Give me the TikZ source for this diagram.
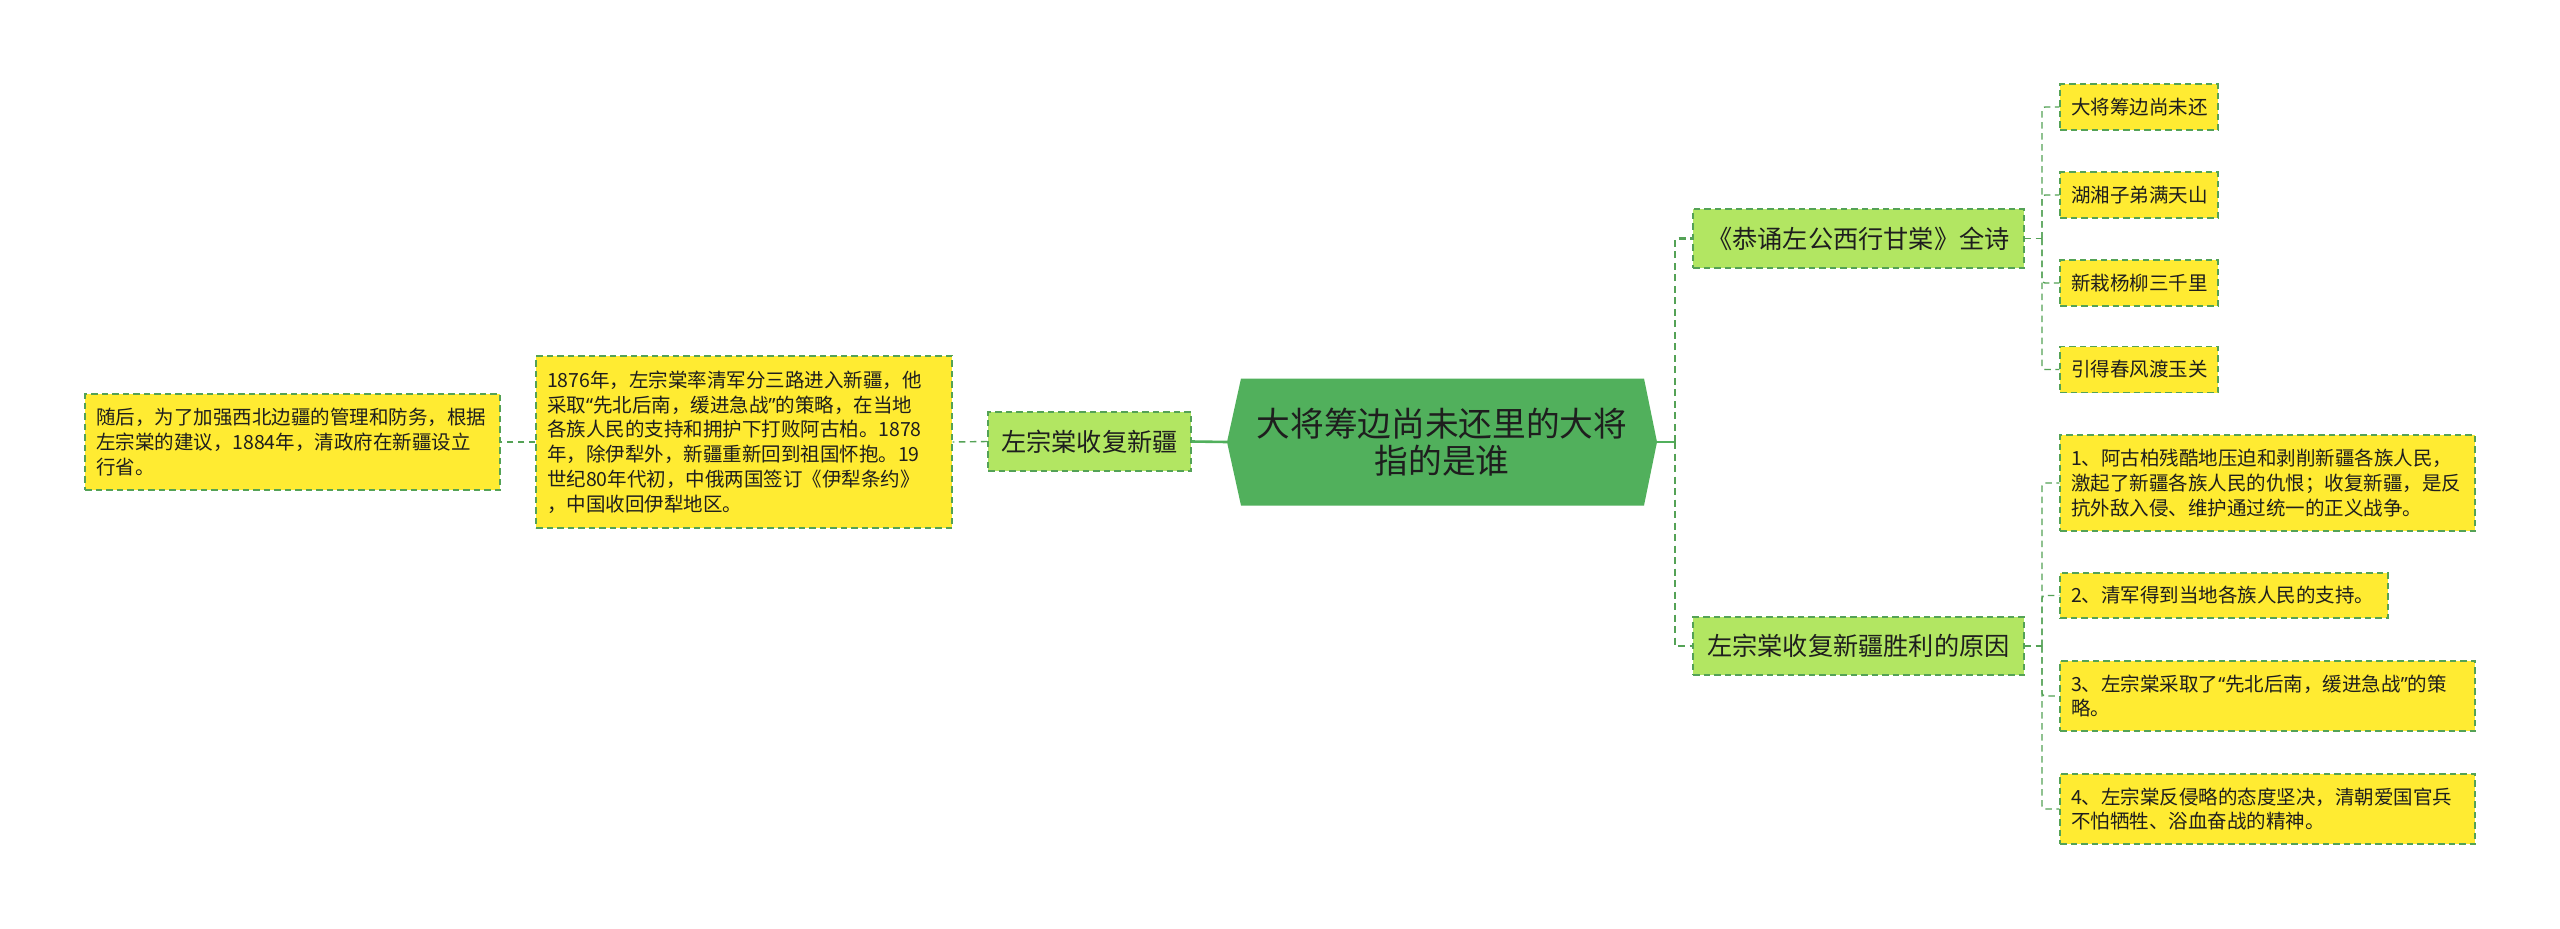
\documentclass[tikz,border=0pt]{standalone}
\usepackage{fontspec}
\setmainfont{Noto Sans CJK SC}
\newfontfamily\qfont{Noto Sans}
\newcommand{\myLq}{{\qfont “}}
\newcommand{\myRq}{{\qfont ”}}
\usetikzlibrary{calc}
\definecolor{hexgreen}{RGB}{81,176,92}
\definecolor{lgreen}{RGB}{178,230,98}
\definecolor{yel}{RGB}{255,235,50}
\definecolor{edge}{RGB}{84,162,86}
\definecolor{txt}{RGB}{30,30,30}
\begin{document}
\begin{tikzpicture}[x=1pt,y=-1pt,
  box/.style={draw=edge, line width=1.4pt, dash pattern=on 6.5pt off 4pt, inner sep=0pt, text=txt},
  lone/.style={box, fill=lgreen, font=\fontsize{25.2}{30}\selectfont, align=center},
  leaf/.style={box, fill=yel, font=\fontsize{19.5}{24.7}\selectfont, align=left, inner xsep=11pt},
  conn/.style={draw=edge, line width=1.4pt, dash pattern=on 6.5pt off 4.5pt},
  busline/.style={draw=edge, line width=2.6pt, dash pattern=on 7pt off 4.5pt},
  solidc/.style={draw=hexgreen, line width=2.6pt}]
\useasboundingbox[fill=white] (0,0) rectangle (2560,929);

% central hexagon
\fill[hexgreen] (1227,442) -- (1241,378.5) -- (1644,378.5) -- (1657,442) -- (1644,505.5) -- (1241,505.5) -- cycle;
\node[minimum width=430pt, minimum height=127pt, inner sep=0pt, text=txt, align=center,
      font=\fontsize{33.7}{37}\selectfont] (root) at (1442,442) {大将筹边尚未还里的大将\\指的是谁};

% left branch
\node[lone, minimum width=203pt, minimum height=59pt] (zuo) at (1089.5,441.5) {左宗棠收复新疆};
\node[leaf, text width=394pt, minimum width=416pt, minimum height=172pt] (hist) at (744,442)
 {1876年，左宗棠率清军分三路进入新疆，他\\采取\myLq 先北后南，缓进急战\myRq 的策略，在当地\\各族人民的支持和拥护下打败阿古柏。1878\\年，除伊犁外，新疆重新回到祖国怀抱。19\\世纪80年代初，中俄两国签订《伊犁条约》\\，中国收回伊犁地区。};
\node[leaf, text width=393pt, minimum width=415pt, minimum height=96pt] (prov) at (292.5,442)
 {随后，为了加强西北边疆的管理和防务，根据\\左宗棠的建议，1884年，清政府在新疆设立\\行省。};

% right branch level 1
\node[lone, minimum width=331pt, minimum height=59pt] (poem) at (1858.5,238.5) {《恭诵左公西行甘棠》全诗};
\node[lone, minimum width=331pt, minimum height=58pt] (why) at (1858.5,646) {左宗棠收复新疆胜利的原因};

% poem lines
\node[leaf, text width=136pt, minimum width=158pt, minimum height=46pt] (p1) at (2139,107) {大将筹边尚未还};
\node[leaf, text width=136pt, minimum width=158pt, minimum height=46pt] (p2) at (2139,195) {湖湘子弟满天山};
\node[leaf, text width=136pt, minimum width=158pt, minimum height=46pt] (p3) at (2139,283) {新栽杨柳三千里};
\node[leaf, text width=136pt, minimum width=158pt, minimum height=46pt] (p4) at (2139,369.5) {引得春风渡玉关};

% reasons
\node[leaf, text width=393pt, minimum width=415pt, minimum height=96pt] (r1) at (2267.5,483)
 {1、阿古柏残酷地压迫和剥削新疆各族人民，\\激起了新疆各族人民的仇恨；收复新疆，是反\\抗外敌入侵、维护通过统一的正义战争。};
\node[leaf, text width=306pt, minimum width=328pt, minimum height=45pt] (r2) at (2224,595.5)
 {2、清军得到当地各族人民的支持。};
\node[leaf, text width=393pt, minimum width=415pt, minimum height=70pt] (r3) at (2267.5,696)
 {3、左宗棠采取了\myLq 先北后南，缓进急战\myRq 的策\\略。};
\node[leaf, text width=393pt, minimum width=415pt, minimum height=70pt] (r4) at (2267.5,809)
 {4、左宗棠反侵略的态度坚决，清朝爱国官兵\\不怕牺牲、浴血奋战的精神。};

% connectors left
\draw[solidc] (root.west) -- (zuo.east);
\draw[conn] (zuo.west) -- (hist.east);
\draw[conn] (hist.west) -- (prov.east);

% connectors right
\coordinate (busR) at (1675,442);
\draw[solidc] (root.east) -- (busR);
\draw[busline] (busR) |- (poem.west);
\draw[busline] (busR) |- (why.west);

\coordinate (pb) at (2042,238.5);
\draw[conn] (poem.east) -- (pb);
\foreach \n in {p1,p2,p3,p4} \draw[conn, rounded corners=3pt] (pb) |- (\n.west);

\coordinate (rb) at (2042,646);
\draw[conn] (why.east) -- (rb);
\foreach \n in {r1,r2,r3,r4} \draw[conn, rounded corners=3pt] (rb) |- (\n.west);
\end{tikzpicture}
\end{document}
